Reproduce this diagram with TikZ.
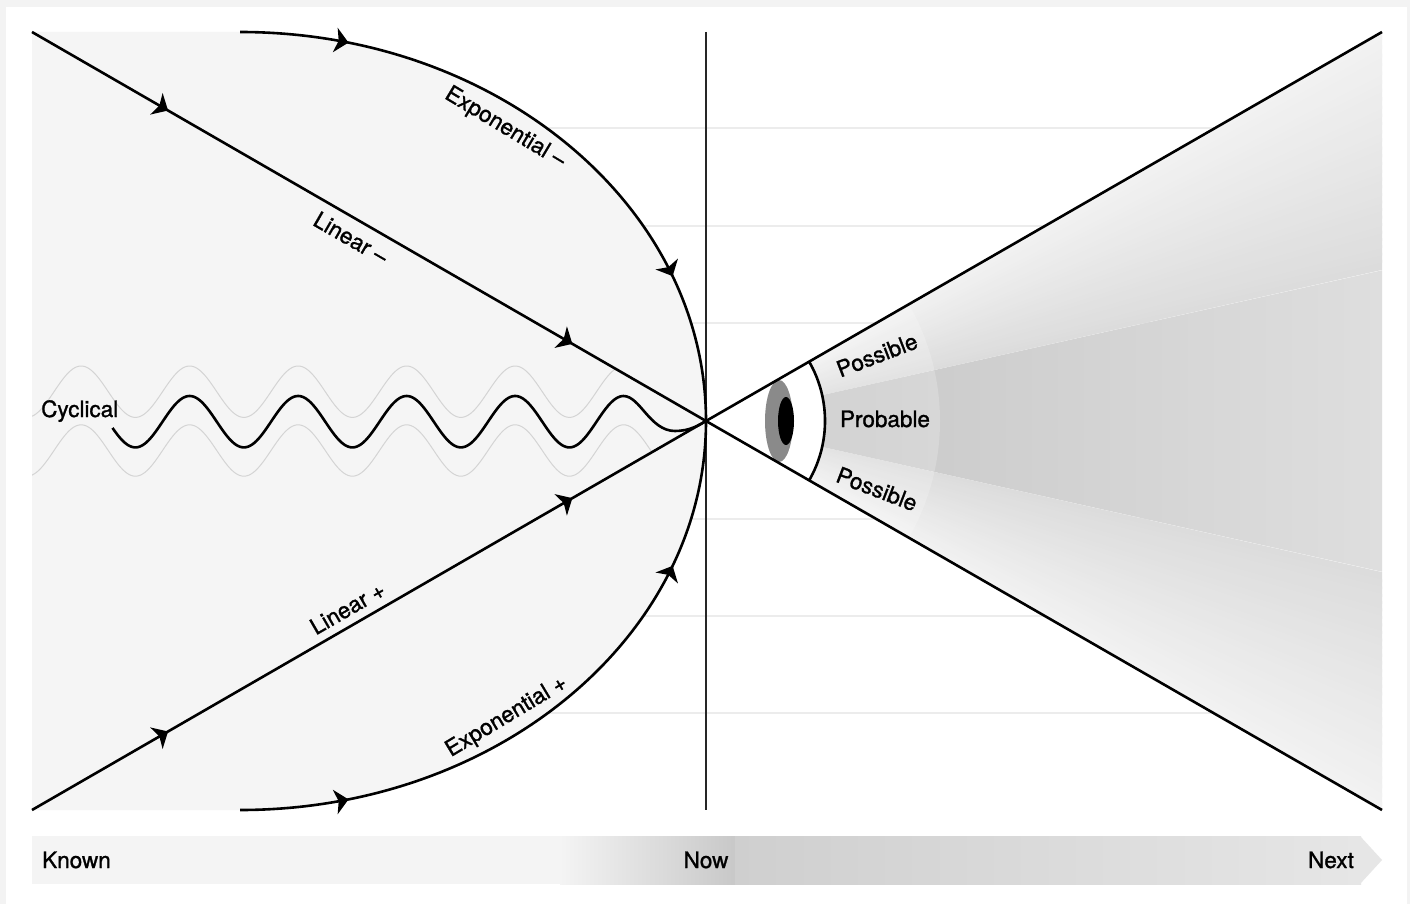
\documentclass[tikz,border=0pt]{standalone}
\usepackage{fontspec}
\setmainfont{TeX Gyre Heros}[UprightFeatures={FakeBold=1.2}]
\usetikzlibrary{arrows.meta,decorations.markings}
\definecolor{bgout}{HTML}{F3F3F3}
\definecolor{leftfill}{HTML}{F5F5F5}
\definecolor{gridline}{HTML}{ECECEC}
\definecolor{posslight}{HTML}{F2F2F2}
\definecolor{possdark}{HTML}{DCDCDC}
\definecolor{probleft}{HTML}{C4C4C4}
\definecolor{probright}{HTML}{DEDEDE}
\definecolor{iris}{HTML}{8A8A8A}
\definecolor{wavegray}{HTML}{D4D4D4}
\definecolor{barlight}{HTML}{F4F4F4}
\definecolor{bardark}{HTML}{C8C8C8}
\definecolor{barmid}{HTML}{CFCFCF}
\definecolor{barend}{HTML}{E6E6E6}
\begin{document}
\begin{tikzpicture}[x=1pt,y=-1pt,
  mainline/.style={line width=2.6pt, black, line join=round},
  flow/.style 2 args={postaction={decorate}, decoration={markings,
     mark=at position #1 with {\fill[black] (1.5,0) -- (-12,12.5) -- (-8.5,0) -- (-12,-12.5) -- cycle;},
     mark=at position #2 with {\fill[black] (1.5,0) -- (-12,12.5) -- (-8.5,0) -- (-12,-12.5) -- cycle;}}},
  lbl/.style={font=\fontsize{22.5}{27}\selectfont, inner sep=0pt},
]
\useasboundingbox (0,0) rectangle (1410,904);
\fill[bgout] (0,0) rectangle (1410,904);
\fill[white] (6,7) rectangle (1407,904);

\coordinate (apex) at (706,421);
\coordinate (TL) at (32,32);
\coordinate (BL) at (32,810);
\coordinate (TR) at (1382,32);
\coordinate (BR) at (1382,810);
\coordinate (ET) at (240,32);
\coordinate (EB) at (240,810);

% faint horizontal guides
\foreach \yy in {128,226,323,519,616,713}
  \draw[gridline, line width=1.5pt] (32,\yy) -- (1382,\yy);

% left region
\fill[leftfill] (TL) -- (ET) arc[start angle=-90, end angle=0, x radius=466, y radius=389]
  arc[start angle=0, end angle=90, x radius=466, y radius=389] -- (BL) -- cycle;

% cone fills
\begin{scope}
\clip (apex) -- (TR) -- (BR) -- cycle;
\foreach \i in {0,...,29} {
  \pgfmathsetmacro\aa{12.6+\i*17.4/30}
  \pgfmathsetmacro\ab{12.6+(\i+1.4)*17.4/30}
  \pgfmathsetmacro\pp{100*(\i+0.5)/30}
  \colorlet{stripc}{posslight!\pp!possdark}
  \fill[stripc] (706,421) -- ({706+800*cos(\aa)},{421-800*sin(\aa)}) -- ({706+800*cos(\ab)},{421-800*sin(\ab)}) -- cycle;
  \fill[stripc] (706,421) -- ({706+800*cos(\aa)},{421+800*sin(\aa)}) -- ({706+800*cos(\ab)},{421+800*sin(\ab)}) -- cycle;
}
\shade[left color=probleft, right color=probright] (apex) -- (1382,270.3) -- (1382,571.7) -- cycle;
\fill[white, opacity=0.2] (apex) -- ({706+234*cos(30)},{421-234*sin(30)}) arc[start angle=-30, end angle=30, radius=234] -- cycle;
\end{scope}

% eye region
\fill[white] (apex) -- ({706+119*cos(30)},{421-119*sin(30)}) arc[start angle=-30, end angle=30, radius=119] -- cycle;
\fill[iris] (779,421) ellipse[x radius=14, y radius=41];
\fill[black] (786,421) ellipse[x radius=8, y radius=24];
\draw[mainline] ({706+119*cos(30)},{421-119*sin(30)}) arc[start angle=-30, end angle=30, radius=119];

% gray waves
\begin{scope}
\clip (TL) -- (apex) -- (BL) -- cycle;
\draw[wavegray, line width=1pt] plot[domain=32:640, samples=300] (\x,{391.7+25.7*cos(3.31797*(\x-135.4))});
\draw[wavegray, line width=1pt] plot[domain=32:680, samples=300] (\x,{450.5+25.7*cos(3.31797*(\x-135.4))});
\end{scope}

% cyclical wave
\draw[mainline] plot[domain=112.5:623.5, samples=300] (\x,{421.7+25.7*cos(3.31797*(\x-135.4))})
  .. controls (640,396) and (650,431) .. (675,431) .. controls (690,431) and (699,425) .. (apex);

% vertical now line
\draw[black!85, line width=1.2pt] (706,32) -- (706,810);

% trajectories
\draw[mainline, flow={0.2}{0.8}] (TL) -- (apex);
\draw[mainline, flow={0.2}{0.8}] (BL) -- (apex);
\draw[mainline, flow={0.16}{0.775}] (ET) arc[start angle=-90, end angle=0, x radius=466, y radius=389];
\draw[mainline, flow={0.16}{0.775}] (EB) arc[start angle=90, end angle=0, x radius=466, y radius=389];
\draw[mainline] (apex) -- (TR);
\draw[mainline] (apex) -- (BR);

% labels
\node[lbl, anchor=base west] (cyc) at (41,417) {Cyclical};
\node[lbl, rotate=-31] (expm) at (505,128) {Exponential –};
\node[lbl, rotate=-30] (linm) at (351,238) {Linear –};
\node[lbl, rotate=30] (linp) at (347.5,608) {Linear +};
\node[lbl, rotate=31] (expp) at (506.7,717) {Exponential +};
\node[lbl, rotate=21] (possu) at (877,355) {Possible};
\node[lbl, rotate=-21] (possl) at (877,489) {Possible};
\node[lbl, anchor=base] (prob) at (885,427) {Probable};

% timeline bar
\fill[barlight] (32,836) rectangle (561,884);
\shade[left color=barlight, right color=bardark] (560,836) rectangle (736,884);
\shade[left color=barmid, right color=barend] (735,836) rectangle (1361,884);
\fill[barend] (1360,836) -- (1382,860) -- (1360,884) -- cycle;
\node[lbl, anchor=base west] (known) at (42,868) {Known};
\node[lbl, anchor=base] (now) at (706,868) {Now};
\node[lbl, anchor=base east] (next) at (1354,868) {Next};
\end{tikzpicture}
\end{document}
